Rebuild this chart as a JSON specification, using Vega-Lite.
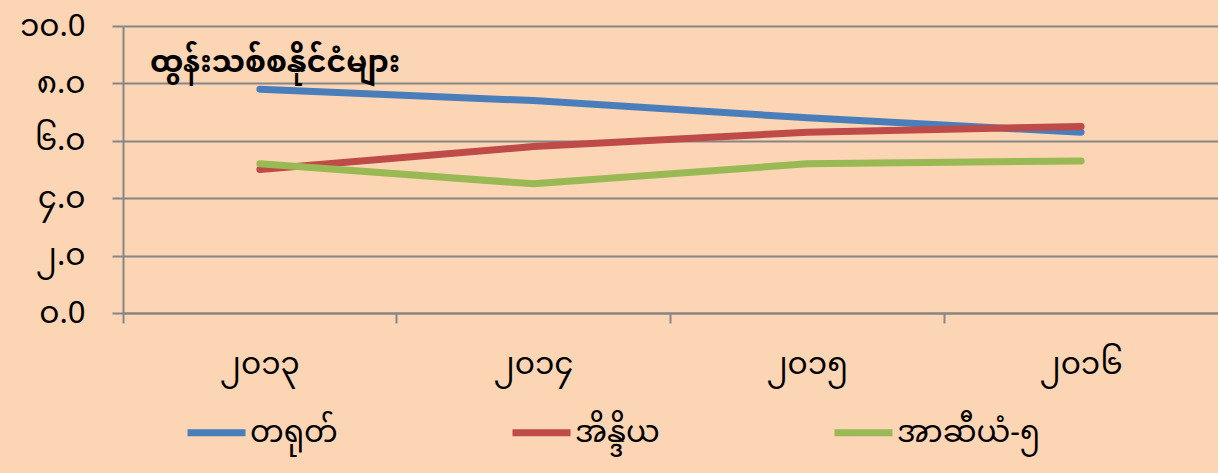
{
  "$schema": "https://vega.github.io/schema/vega-lite/v6.json",
  "autosize": {"type": "none"},
  "width": 1095,
  "height": 287,
  "padding": {"left": 123, "top": 26, "right": 0, "bottom": 160},
  "background": "#FCD5B5",
  "title": {
    "text": "ထွန်းသစ်စနိုင်ငံများ",
    "anchor": "start",
    "frame": "group",
    "orient": "top",
    "dx": 27,
    "dy": 72,
    "fontSize": 30,
    "fontWeight": "bold",
    "color": "#000000",
    "font": "Noto Sans Myanmar, Padauk, Myanmar Text, sans-serif"
  },
  "config": {
    "view": {"stroke": null},
    "font": "Noto Sans Myanmar, Padauk, Myanmar Text, sans-serif"
  },
  "data": {
    "values": [
      {"year": "၂၀၁၃", "country": "တရုတ်", "growth": 7.8},
      {"year": "၂၀၁၄", "country": "တရုတ်", "growth": 7.4},
      {"year": "၂၀၁၅", "country": "တရုတ်", "growth": 6.8},
      {"year": "၂၀၁၆", "country": "တရုတ်", "growth": 6.3},
      {"year": "၂၀၁၃", "country": "အိန္ဒိယ", "growth": 5.0},
      {"year": "၂၀၁၄", "country": "အိန္ဒိယ", "growth": 5.8},
      {"year": "၂၀၁၅", "country": "အိန္ဒိယ", "growth": 6.3},
      {"year": "၂၀၁၆", "country": "အိန္ဒိယ", "growth": 6.5},
      {"year": "၂၀၁၃", "country": "အာဆီယံ-၅", "growth": 5.2},
      {"year": "၂၀၁၄", "country": "အာဆီယံ-၅", "growth": 4.5},
      {"year": "၂၀၁၅", "country": "အာဆီယံ-၅", "growth": 5.2},
      {"year": "၂၀၁၆", "country": "အာဆီယံ-၅", "growth": 5.3}
    ]
  },
  "mark": {"type": "line", "strokeWidth": 7, "strokeCap": "round", "strokeJoin": "round"},
  "encoding": {
    "x": {
      "field": "year",
      "type": "ordinal",
      "sort": null,
      "scale": {"type": "band", "paddingInner": 0, "paddingOuter": 0},
      "axis": {
        "title": null,
        "labelAngle": 0,
        "bandPosition": 0,
        "domainColor": "#868686",
        "domainWidth": 2,
        "tickColor": "#868686",
        "tickWidth": 2,
        "tickSize": 10,
        "labelPadding": 26,
        "labelFontSize": 31,
        "labelColor": "#000000",
        "grid": false
      }
    },
    "y": {
      "field": "growth",
      "type": "quantitative",
      "scale": {"domain": [0, 10], "nice": false, "zero": true},
      "axis": {
        "title": null,
        "values": [0, 2, 4, 6, 8, 10],
        "format": ".1f",
        "labelExpr": "replace(replace(replace(replace(replace(replace(replace(replace(replace(replace(datum.label,'0','၀'),'1','၁'),'2','၂'),'3','၃'),'4','၄'),'5','၅'),'6','၆'),'7','၇'),'8','၈'),'9','၉')",
        "domainColor": "#868686",
        "domainWidth": 2,
        "tickColor": "#868686",
        "tickWidth": 2,
        "tickSize": 11,
        "labelPadding": 27,
        "labelFontSize": 31,
        "labelColor": "#000000",
        "grid": true,
        "gridColor": "#868686",
        "gridWidth": 2
      }
    },
    "color": {
      "field": "country",
      "type": "nominal",
      "sort": null,
      "scale": {"range": ["#4A7EBB", "#BE4B48", "#98B954"]},
      "legend": {
        "title": null,
        "orient": "none",
        "direction": "horizontal",
        "legendX": 61,
        "legendY": 374,
        "symbolType": "stroke",
        "symbolStrokeWidth": 7,
        "symbolSize": 3364,
        "labelFontSize": 30,
        "labelColor": "#000000",
        "labelOffset": 1,
        "columnPadding": 160,
        "labelLimit": 400
      }
    }
  }
}
